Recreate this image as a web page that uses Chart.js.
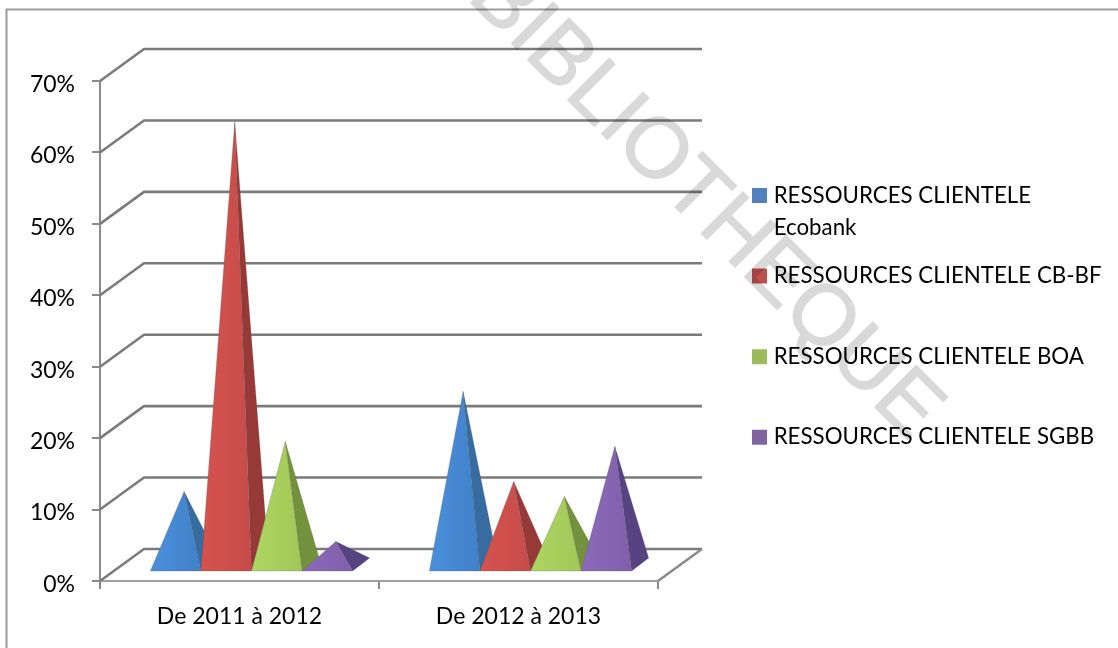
<!DOCTYPE html>
<html lang="fr">
<head>
<meta charset="utf-8">
<title>Ressources clientèle</title>
<script src="https://cdn.jsdelivr.net/npm/chart.js@4"></script>
<style>
  html, body { margin: 0; padding: 0; background: #fff; }
  #wrap { width: 1118px; height: 648px; }
</style>
</head>
<body>
<div id="wrap"><canvas id="c" width="1118" height="648"></canvas></div>
<script>
// Periods on the category axis
const periods = ['De 2011 à 2012', 'De 2012 à 2013'];

// Growth of customer deposits per bank, in percent
const ecobank = [10.3, 24.3];
const cbbf = [62, 11.7];
const boa = [17.3, 9.6];
const sgbb = [3.3, 16.6];

// Legend wording, one array per line
const legendEcobank = ['RESSOURCES CLIENTELE', 'Ecobank'];
const legendCbbf = ['RESSOURCES CLIENTELE CB-BF', ''];
const legendBoa = ['RESSOURCES CLIENTELE BOA', ''];
const legendSgbb = ['RESSOURCES CLIENTELE SGBB', ''];

// Value axis
const axisMin = 0;
const axisMax = 70;
const axisStep = 10;

// Series colours: legend swatch, lit front face, front face shadow side, side face
const swatches = ['#4f81bd', '#c0504d', '#9bbb59', '#8064a2'];
const frontLight = ['#4b8fdc', '#d6524e', '#aed662', '#8c6abc'];
const frontDark = ['#4081c8', '#c64c49', '#a2c758', '#7f60ab'];
const sideFaces = ['#366c9f', '#963937', '#74923e', '#574382'];

// Oblique projection of the floor: how far the rear wall is shifted
const wallDx = 44;
const wallDy = 32;

const FONT = 'Lato, "Noto Sans", sans-serif';
const AXIS_GREY = '#8a8a8a';
const WALL_GREY = '#7b7b7b';

// A bar element drawn as a square pyramid standing on the floor
class PyramidElement extends Chart.BarElement {
  draw(ctx) {
    const { x, y, base, width } = this.getProps(['x', 'y', 'base', 'width'], true);
    const i = this.$series;
    const half = width / 2;
    const fl = [x - half + 12, base - 9];
    const fr = [x + half + 12, base - 9];
    const br = [x + half + 29, base - 22];
    const tip = [x + 20.5, y - 16];

    ctx.save();
    ctx.lineJoin = 'round';
    ctx.lineWidth = 0.6;
    ctx.strokeStyle = 'rgba(80,80,80,0.4)';

    // right-hand face, in shadow
    ctx.beginPath();
    ctx.moveTo(fr[0], fr[1]);
    ctx.lineTo(br[0], br[1]);
    ctx.lineTo(tip[0], tip[1]);
    ctx.closePath();
    ctx.fillStyle = sideFaces[i];
    ctx.fill();
    ctx.stroke();

    // front face, lit from the left
    const g = ctx.createLinearGradient(fl[0], 0, fr[0], 0);
    g.addColorStop(0, frontLight[i]);
    g.addColorStop(1, frontDark[i]);
    ctx.beginPath();
    ctx.moveTo(fl[0], fl[1]);
    ctx.lineTo(fr[0], fr[1]);
    ctx.lineTo(tip[0], tip[1]);
    ctx.closePath();
    ctx.fillStyle = g;
    ctx.fill();
    ctx.stroke();
    ctx.restore();
  }
}
PyramidElement.id = 'pyramid';
PyramidElement.defaults = Chart.BarElement.defaults;

class PyramidController extends Chart.BarController {
  updateElements(elements, start, count, mode) {
    super.updateElements(elements, start, count, mode);
    for (let n = start; n < start + count; n++) {
      elements[n].$series = this.index;
    }
  }
}
PyramidController.id = 'pyramid';
PyramidController.defaults = { datasetElementType: false, dataElementType: 'pyramid' };
PyramidController.overrides = Chart.BarController.overrides;

Chart.register(PyramidElement, PyramidController);

// Frame, rear wall, floor and the stamp across the page
const scenery = {
  id: 'scenery',
  beforeLayout(chart) {
    const legend = chart.legend;
    if (legend && !legend.$wide) {
      const fit = legend.fit;
      legend.fit = function () {
        fit.call(this);
        this.width = 460;
      };
      legend.$wide = true;
    }
  },
  afterLayout(chart) {
    const legend = chart.legend;
    const pad = legend.options.labels.padding;
    legend.left = 756.5 - pad;
    legend.top = 184.3 - pad;
    legend.bottom = chart.height;
    legend.right = chart.width;
  },
  beforeDraw(chart) {
    const ctx = chart.ctx;
    ctx.save();
    ctx.strokeStyle = '#9b9b9b';
    ctx.lineWidth = 2;
    ctx.beginPath();
    ctx.moveTo(6.5, chart.height);
    ctx.lineTo(6.5, 9.5);
    ctx.lineTo(chart.width, 9.5);
    ctx.stroke();
    ctx.restore();
  },
  beforeDatasetsDraw(chart) {
    const ctx = chart.ctx;
    const { x: xs, y: ys } = chart.scales;
    ctx.save();
    ctx.strokeStyle = WALL_GREY;
    ctx.lineWidth = 2.6;
    ctx.lineJoin = 'round';
    ys.ticks.forEach(t => {
      const py = ys.getPixelForValue(t.value);
      ctx.beginPath();
      ctx.moveTo(xs.left, py);
      ctx.lineTo(xs.left + wallDx, py - wallDy);
      ctx.lineTo(xs.right + wallDx, py - wallDy);
      ctx.stroke();
    });
    ctx.strokeStyle = AXIS_GREY;
    ctx.beginPath();
    ctx.moveTo(xs.right, ys.bottom);
    ctx.lineTo(xs.right + wallDx, ys.bottom - wallDy);
    ctx.stroke();
    ctx.restore();

    // Series go front to back in dataset order, so later pyramids overlap earlier ones
    for (let i = 0; i < chart.data.datasets.length; i++) {
      chart.getDatasetMeta(i).controller.draw();
    }
    return false;
  },
  afterDraw(chart) {
    // The stamp is composed on its own layer so its outline and fill stay one flat tone
    const layer = document.createElement('canvas');
    layer.width = chart.width;
    layer.height = chart.height;
    const s = layer.getContext('2d');
    s.fillStyle = s.strokeStyle = '#d9d9d9';
    s.lineWidth = 1.4;
    s.lineJoin = 'round';
    s.font = '85px "Liberation Sans", Arial, sans-serif';
    s.translate(466, -2);
    s.rotate(Math.PI / 4);
    s.fillText('BIBLIOTHEQUE', 0, 0);
    s.strokeText('BIBLIOTHEQUE', 0, 0);

    const ctx = chart.ctx;
    ctx.save();
    ctx.globalCompositeOperation = 'multiply';
    ctx.drawImage(layer, 0, 0);
    ctx.restore();
  }
};

const makeSeries = (lines, values, colour) => ({
  label: lines.join(' ').trim(),
  legendLines: lines,
  data: values,
  backgroundColor: colour,
  borderColor: colour,
  categoryPercentage: 0.725,
  barPercentage: 1
});

new Chart(document.getElementById('c'), {
  type: 'pyramid',
  data: {
    labels: periods,
    datasets: [
      makeSeries(legendEcobank, ecobank, swatches[0]),
      makeSeries(legendCbbf, cbbf, swatches[1]),
      makeSeries(legendBoa, boa, swatches[2]),
      makeSeries(legendSgbb, sgbb, swatches[3])
    ]
  },
  options: {
    responsive: false,
    animation: false,
    layout: { padding: { top: 81, left: 0, right: 0, bottom: 0 } },
    plugins: {
      tooltip: { enabled: false },
      title: { display: false },
      legend: {
        position: 'right',
        align: 'start',
        labels: {
          color: '#000',
          font: { family: FONT, size: 22.3, lineHeight: '32px' },
          boxWidth: 6,
          boxHeight: 6,
          padding: 16.6,
          generateLabels(chart) {
            return chart.data.datasets.map((d, i) => ({
              text: d.legendLines,
              fillStyle: d.backgroundColor,
              strokeStyle: d.backgroundColor,
              lineWidth: 9,
              hidden: false,
              datasetIndex: i
            }));
          }
        }
      }
    },
    scales: {
      x: {
        type: 'category',
        offset: true,
        afterFit(scale) { scale.height = 67; },
        grid: { offset: true, drawOnChartArea: false, drawTicks: true, tickLength: 8, color: AXIS_GREY, lineWidth: 2 },
        border: { color: '#a0a0a0', width: 2 },
        ticks: { color: '#000', font: { family: FONT, size: 23 }, padding: 14, maxRotation: 0 }
      },
      y: {
        type: 'linear',
        min: axisMin,
        max: axisMax,
        afterFit(scale) { scale.width = 100; },
        grid: { drawOnChartArea: false, drawTicks: true, tickLength: 8, color: AXIS_GREY, lineWidth: 2 },
        border: { color: AXIS_GREY, width: 2 },
        ticks: {
          stepSize: axisStep,
          color: '#000',
          // the empty first line sets the labels a little below their tick marks
          font: { family: FONT, size: 23, lineHeight: '7px' },
          padding: 17,
          callback: v => ['', v + '%']
        }
      }
    }
  },
  plugins: [scenery]
});
</script>
</body>
</html>
